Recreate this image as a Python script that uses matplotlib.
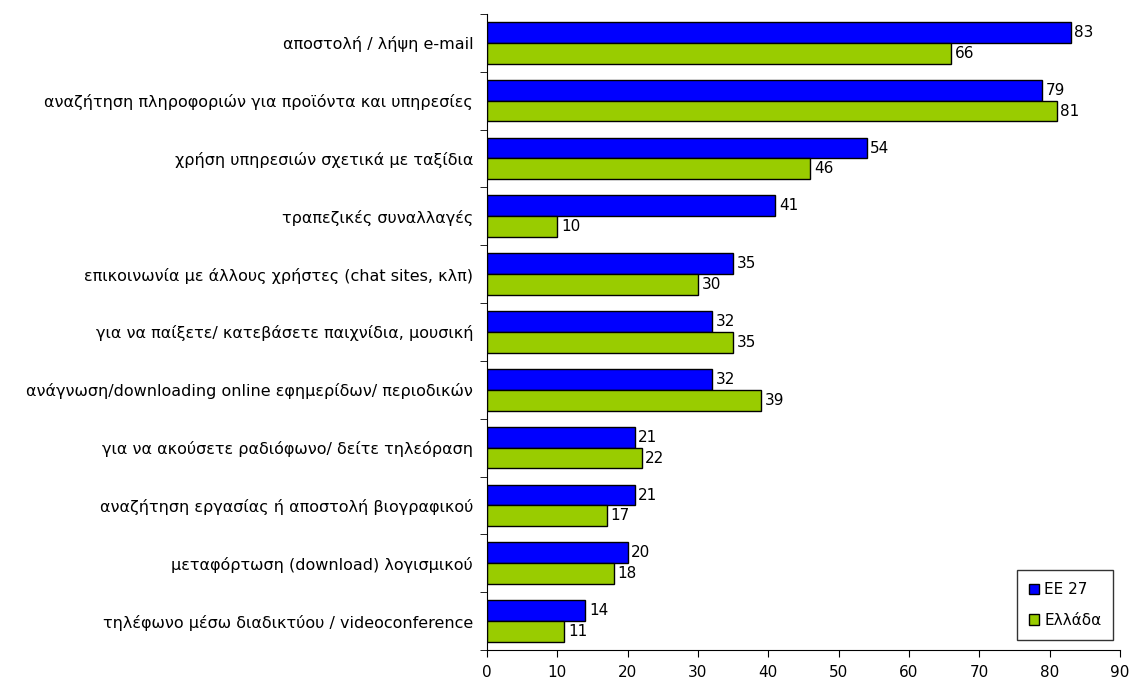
import matplotlib
matplotlib.use("Agg")
import matplotlib.pyplot as plt
import numpy as np

categories = [
    "αποστολή / λήψη e-mail",
    "αναζήτηση πληροφοριών για προϊόντα και υπηρεσίες",
    "χρήση υπηρεσιών σχετικά με ταξίδια",
    "τραπεζικές συναλλαγές",
    "επικοινωνία με άλλους χρήστες (chat sites, κλπ)",
    "για να παίξετε/ κατεβάσετε παιχνίδια, μουσική",
    "ανάγνωση/downloading online εφημερίδων/ περιοδικών",
    "για να ακούσετε ραδιόφωνο/ δείτε τηλεόραση",
    "αναζήτηση εργασίας ή αποστολή βιογραφικού",
    "μεταφόρτωση (download) λογισμικού",
    "τηλέφωνο μέσω διαδικτύου / videoconference",
]
eu27 = [83, 79, 54, 41, 35, 32, 32, 21, 21, 20, 14]
greece = [66, 81, 46, 10, 30, 35, 39, 22, 17, 18, 11]
series_names = ["ΕΕ 27", "Ελλάδα"]

plt.rcParams["font.family"] = ["DejaVu Sans"]

fig = plt.figure(figsize=(11.34, 6.84), dpi=100)
ax = fig.add_axes([0.4295, 0.0497, 0.558, 0.93])

y = np.arange(len(categories))
h = 0.36
b1 = ax.barh(y - h / 2, eu27, h, color="#0000FF", edgecolor="black", linewidth=1, label=series_names[0])
b2 = ax.barh(y + h / 2, greece, h, color="#99CC00", edgecolor="black", linewidth=1, label=series_names[1])

for bars, vals in ((b1, eu27), (b2, greece)):
    for bar, v in zip(bars, vals):
        ax.text(bar.get_width() + 0.5, bar.get_y() + bar.get_height() / 2, str(v),
                va="center", ha="left", fontsize=11)

ax.set_ylim(len(categories) - 0.5, -0.5)
ax.set_xlim(0, 90)
ax.set_xticks(np.arange(0, 91, 10))
ax.set_yticks(y)
ax.set_yticklabels(categories, fontsize=11.5)
ax.tick_params(axis="y", length=0, pad=10)
ax.set_yticks(np.arange(-0.5, len(categories), 1), minor=True)
ax.tick_params(axis="y", which="minor", length=5, direction="out")
ax.tick_params(axis="x", length=5, direction="out", labelsize=11, pad=6)
ax.spines["top"].set_visible(False)
ax.spines["right"].set_visible(False)

leg = ax.legend(loc="lower right", bbox_to_anchor=(0.99, 0.016), borderaxespad=0, fancybox=False,
                edgecolor="black", fontsize=11, handlelength=0.7, handleheight=0.7, handletextpad=0.3,
                labelspacing=1.0, borderpad=0.8)
leg.get_frame().set_linewidth(1)

fig.savefig("out.png", dpi=100)
